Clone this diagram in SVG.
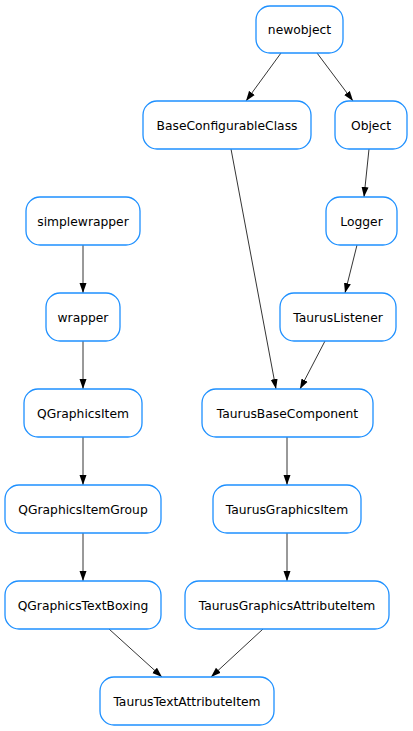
<svg xmlns="http://www.w3.org/2000/svg" width="413" height="731" viewBox="0 0 413 731">
<style>
.n rect{fill:#fff;stroke:#1e90ff;stroke-width:1.3}
.n text{font-family:"DejaVu Sans",sans-serif;font-size:12.3px;fill:#000;text-anchor:middle}
.e line{stroke:#000;stroke-width:0.8;marker-end:url(#a)}
</style>
<defs>
<marker id="a" markerUnits="userSpaceOnUse" markerWidth="10" markerHeight="8" refX="10" refY="3.5" orient="auto" viewBox="0 0 10 7">
<path d="M0,0 L10,3.5 L0,7 Z" fill="#000"/>
</marker>
</defs>
<rect width="413" height="731" fill="#fff"/>
<g id="connectors" class="e">
<line x1="281" y1="53" x2="246" y2="101"/>
<line x1="317" y1="53" x2="353" y2="101"/>
<line x1="231" y1="149" x2="276" y2="389"/>
<line x1="369" y1="149" x2="364" y2="197"/>
<line x1="357" y1="245" x2="345" y2="293"/>
<line x1="325" y1="341" x2="300" y2="389"/>
<line x1="83" y1="245" x2="83" y2="293"/>
<line x1="83" y1="341" x2="83" y2="389"/>
<line x1="83" y1="437" x2="83" y2="485"/>
<line x1="83" y1="533" x2="83" y2="581"/>
<line x1="287" y1="437" x2="287" y2="485"/>
<line x1="287" y1="533" x2="287" y2="581"/>
<line x1="109" y1="629" x2="162" y2="677"/>
<line x1="263" y1="629" x2="211" y2="677"/>
</g>
<g id="newobject" class="n"><rect x="256" y="6" width="87" height="47" rx="14"/><text x="299.5" y="34">newobject</text></g>
<g id="BaseConfigurableClass" class="n"><rect x="143" y="101" width="168" height="48" rx="14"/><text x="227" y="129.5">BaseConfigurableClass</text></g>
<g id="Object" class="n"><rect x="335" y="101" width="72" height="48" rx="14"/><text x="371" y="129.5">Object</text></g>
<g id="Logger" class="n"><rect x="326" y="197" width="71" height="48" rx="14"/><text x="361.5" y="225.5">Logger</text></g>
<g id="simplewrapper" class="n"><rect x="26" y="197" width="114" height="48" rx="14"/><text x="83" y="225.5">simplewrapper</text></g>
<g id="wrapper" class="n"><rect x="46" y="293" width="74" height="48" rx="14"/><text x="83" y="321.5">wrapper</text></g>
<g id="TaurusListener" class="n"><rect x="280" y="293" width="116" height="48" rx="14"/><text x="338" y="321.5">TaurusListener</text></g>
<g id="QGraphicsItem" class="n"><rect x="24" y="389" width="118" height="48" rx="14"/><text x="83" y="417.5">QGraphicsItem</text></g>
<g id="TaurusBaseComponent" class="n"><rect x="202" y="389" width="171" height="48" rx="14"/><text x="287.5" y="417.5">TaurusBaseComponent</text></g>
<g id="QGraphicsItemGroup" class="n"><rect x="5" y="485" width="156" height="48" rx="14"/><text x="83" y="513.5">QGraphicsItemGroup</text></g>
<g id="TaurusGraphicsItem" class="n"><rect x="213" y="485" width="148" height="48" rx="14"/><text x="287" y="513.5">TaurusGraphicsItem</text></g>
<g id="QGraphicsTextBoxing" class="n"><rect x="5" y="581" width="156" height="48" rx="14"/><text x="83" y="609.5">QGraphicsTextBoxing</text></g>
<g id="TaurusGraphicsAttributeItem" class="n"><rect x="185" y="581" width="204" height="48" rx="14"/><text x="287" y="609.5">TaurusGraphicsAttributeItem</text></g>
<g id="TaurusTextAttributeItem" class="n"><rect x="100" y="677" width="174" height="48" rx="14"/><text x="187" y="705.5">TaurusTextAttributeItem</text></g>
</svg>
